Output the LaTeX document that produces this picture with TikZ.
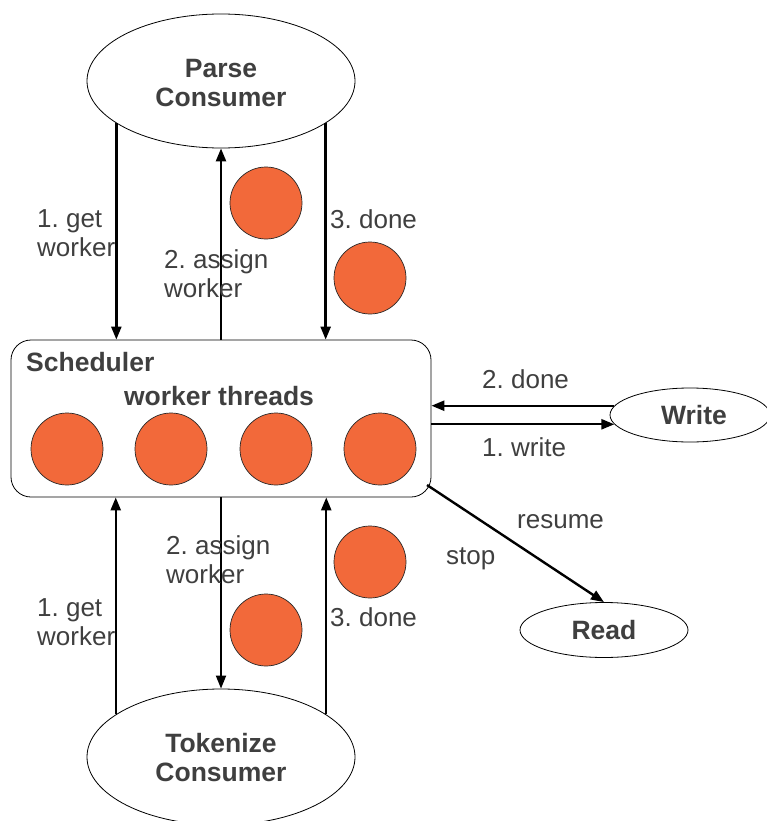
\documentclass[tikz,border=0pt]{standalone}
\usepackage{fontspec}
\newfontfamily\lsans{Liberation Sans}
\usetikzlibrary{shapes.geometric,arrows.meta,calc}
\definecolor{txt}{HTML}{3F3F3F}
\definecolor{worker}{HTML}{F2693A}
\frenchspacing
\begin{document}
\begin{tikzpicture}[x=1pt,y=-1pt,
  every node/.style={font=\lsans\frenchspacing\fontsize{26}{29}\selectfont, text=txt, inner sep=0pt},
  consumer/.style={ellipse, draw=black, line width=0.8pt, fill=white},
  btext/.style={font=\lsans\bfseries\fontsize{26.5}{29}\selectfont, align=center},
  wthread/.style={circle, draw=black!85, line width=0.7pt, fill=worker, minimum size=72pt},
  arr/.style={draw=black, line width=2.4pt, -{Triangle[length=13pt,width=10pt]}},
  lbl/.style={anchor=west, align=left}
]
\useasboundingbox (0,0) rectangle (767,821);

% nodes
\node[consumer, minimum width=268pt, minimum height=134pt] (parse) at (221,81) {};
\node[btext] (parsetxt) at (221,83.5) {Parse\\Consumer};
\node[consumer, minimum width=268pt, minimum height=136pt] (tok) at (221,757) {};
\node[btext] (toktxt) at (221,758) {Tokenize\\Consumer};
\node[draw=black, line width=0.8pt, rounded corners=20pt, minimum width=420pt, minimum height=157pt] (sched) at (221,418.5) {};
\node[consumer, minimum width=160pt, minimum height=54pt] (write) at (690,415) {};
\node[btext] (writetxt) at (694,415) {Write};
\node[consumer, minimum width=168pt, minimum height=55pt, btext] (read) at (604,630) {Read};

\node[btext, anchor=west] (schedlbl) at (26,362) {Scheduler};
\node[btext] (wtlbl) at (219,396) {worker threads};

\node[wthread] (w1) at (67,449) {};
\node[wthread] (w2) at (171,449) {};
\node[wthread] (w3) at (276,449) {};
\node[wthread] (w4) at (380,449) {};

% moving workers
\node[wthread] (t1) at (266,203) {};
\node[wthread] (t2) at (370,278) {};
\node[wthread] (b1) at (370,562) {};
\node[wthread] (b2) at (266,630) {};

% top connectors
\draw[arr] (parse.-158) -- (parse.-158 |- sched.north);
\draw[arr] (sched.north -| parse.south) -- (parse.south);
\draw[arr] (parse.-22) -- (parse.-22 |- sched.north);

% bottom connectors
\draw[arr] (tok.158) -- (tok.158 |- sched.south);
\draw[arr, line width=1.8pt] (sched.south -| tok.north) -- (tok.north);
\draw[arr] (tok.22) -- (tok.22 |- sched.south);

% write
\draw[arr] (write.173) -- (write.173 -| sched.east);
\draw[arr] (write.187 -| sched.east) -- (write.187);

% read
\coordinate (sc) at (427,485);
\draw[arr] (sc) -- (read.north);

% labels
\node[lbl] (l1) at (37,233.5) {1. get\\worker};
\node[lbl] (l2) at (164,273.5) {2. assign\\worker};
\node[lbl] (l3) at (330,219) {3. done};
\node[lbl] (l4) at (166,559.5) {2. assign\\worker};
\node[lbl] (l5) at (37,622) {1. get\\worker};
\node[lbl] (l6) at (330,617) {3. done};
\node[lbl] (l7) at (482,379) {2. done};
\node[lbl] (l8) at (482,447) {1. write};
\node[lbl] (l9) at (517,522) {resume};
\node[lbl] (l10) at (446,559) {stop};
\end{tikzpicture}
\end{document}
